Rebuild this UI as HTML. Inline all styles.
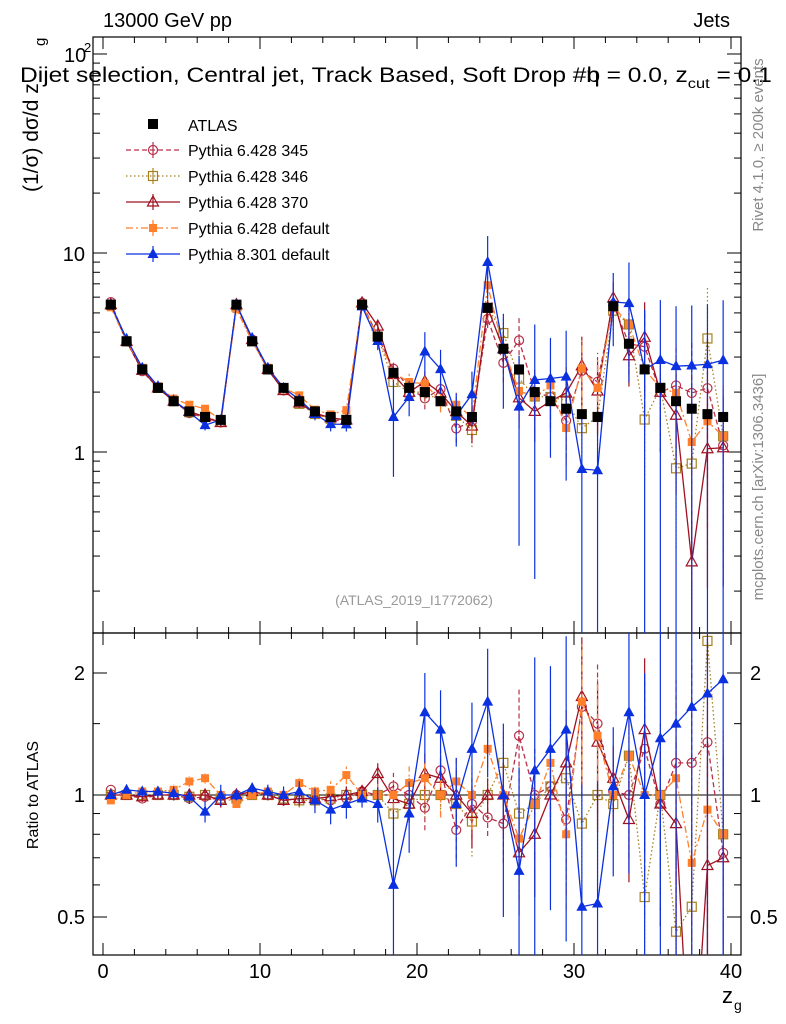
<!DOCTYPE html>
<html><head><meta charset="utf-8"><style>
html,body{margin:0;background:#fff;overflow:hidden;}
svg{font-family:"Liberation Sans",sans-serif;display:block;}
</style></head><body>
<svg id="c" width="786" height="1024" viewBox="0 0 786 1024"></svg>
<script>
const bins=[];for(let i=0;i<40;i++)bins.push(i+0.5);
const atlas=[5.5,3.6,2.6,2.1,1.8,1.6,1.5,1.45,5.5,3.6,2.6,2.1,1.8,1.6,1.5,1.45,5.5,3.8,2.5,2.1,2.0,1.8,1.6,1.5,5.3,3.3,2.6,2.0,1.8,1.65,1.55,1.5,5.4,3.5,2.6,2.1,1.8,1.65,1.55,1.5];
const r345=[1.03,1.0,0.98,1.0,1.0,0.98,0.99,0.97,1.0,1.02,1.0,0.97,0.98,0.98,0.97,0.98,1.02,1.0,1.05,1.0,0.93,1.15,0.82,0.95,0.88,0.85,1.4,1.0,1.05,0.87,1.65,1.5,1.02,1.0,1.3,0.95,1.2,1.2,1.35,0.72];
const r346=[1.0,1.0,1.0,1.0,1.0,0.99,1.0,0.98,0.98,1.0,1.0,0.98,0.97,0.97,0.98,1.0,1.0,1.0,0.9,0.95,1.0,1.0,0.95,0.86,1.0,1.2,0.9,0.95,1.05,1.1,0.85,1.0,0.95,1.25,0.56,1.0,0.46,0.53,2.4,0.8];
const r370=[1.0,1.0,0.99,1.0,1.0,1.0,1.0,0.97,1.0,1.02,1.0,0.97,0.98,0.98,0.99,1.0,1.02,1.13,0.98,0.95,1.13,1.1,1.0,0.9,1.0,1.0,0.72,0.8,1.0,1.2,1.75,1.35,1.1,0.87,1.45,0.95,0.85,0.17,0.67,0.7];
const rdef=[0.97,1.0,1.02,1.02,1.03,1.08,1.1,1.0,0.95,1.0,1.02,1.0,1.07,1.02,1.03,1.12,1.0,1.0,1.0,1.07,1.1,1.0,1.08,1.0,1.3,1.0,0.78,0.95,1.2,0.8,1.7,1.4,1.0,1.25,1.0,1.0,1.1,0.68,0.92,0.8];
const r8=[1.0,1.03,1.02,1.02,1.01,0.99,0.91,1.0,1.0,1.04,1.02,1.0,1.02,0.97,0.92,0.95,0.98,0.95,0.6,0.9,1.6,1.45,0.95,1.3,1.7,1.0,0.65,1.15,1.3,1.45,0.53,0.54,1.05,1.6,1.0,1.38,1.5,1.65,1.78,1.93];
const e8=[0.02,0.02,0.03,0.03,0.04,0.04,0.06,0.06,0.03,0.03,0.04,0.05,0.06,0.07,0.08,0.08,0.05,0.1,0.5,0.2,0.25,0.25,0.3,0.3,0.35,0.5,0.8,0.9,0.6,0.7,1.0,1.0,0.4,0.6,1.0,1.0,1.0,1.0,1.0,1.0];
const eMC=[0.02,0.02,0.02,0.02,0.03,0.03,0.03,0.04,0.02,0.02,0.03,0.03,0.04,0.04,0.05,0.05,0.03,0.06,0.08,0.1,0.12,0.12,0.15,0.18,0.1,0.2,0.3,0.3,0.3,0.35,0.4,0.4,0.2,0.3,0.5,0.5,0.6,0.8,0.8,0.8];
const xTicks=[0,10,20,30,40];

const S=document.getElementById('c'),NS='http://www.w3.org/2000/svg';
function el(t,a,p){const e=document.createElementNS(NS,t);for(const k in a)e.setAttribute(k,a[k]);(p||S).appendChild(e);return e;}
const L=93,R=741,T1=37,B1=633,T2=633,B2=955;
const X=v=>103+v*15.7;
const Y1=v=>452-Math.log10(v)*199;
const Y2=v=>795-Math.log2(v)*122;
const defs=el('defs',{});
const c1=el('clipPath',{id:'c1'},defs);el('rect',{x:L,y:T1,width:R-L,height:B1-T1},c1);
const c2=el('clipPath',{id:'c2'},defs);el('rect',{x:L,y:T2,width:R-L,height:B2-T2},c2);
function txt(x,y,s,a,name){const t=el('text',Object.assign({x:x,y:y},a||{}));t.textContent=s;return t;}

const series=[
 {name:'pythia-6428-345',r:r345,col:'#b8304a',dash:'5,3',mk:'circ',lab:'Pythia 6.428 345'},
 {name:'pythia-6428-346',r:r346,col:'#a88020',dash:'1.5,2.5',mk:'sq',lab:'Pythia 6.428 346'},
 {name:'pythia-6428-370',r:r370,col:'#a01020',dash:'',mk:'tri',lab:'Pythia 6.428 370'},
 {name:'pythia-6428-default',r:rdef,col:'#ff7f2a',dash:'7,3,2,3',mk:'fsq',lab:'Pythia 6.428 default'},
 {name:'pythia-8301-default',r:r8,col:'#0a30e0',dash:'',mk:'ftri',lab:'Pythia 8.301 default'}];
function marker(g,m,x,y,col){
 if(m==='circ')el('circle',{cx:x,cy:y,r:4.5,fill:'none',stroke:col,'stroke-width':1.2},g);
 else if(m==='sq')el('rect',{x:x-4.5,y:y-4.5,width:9,height:9,fill:'none',stroke:col,'stroke-width':1.2},g);
 else if(m==='fsq')el('rect',{x:x-4,y:y-4,width:8,height:8,fill:col},g);
 else if(m==='tri')el('path',{d:`M${x},${y-6}L${x+5.5},${y+4}L${x-5.5},${y+4}Z`,fill:'none',stroke:col,'stroke-width':1.2},g);
 else if(m==='ftri')el('path',{d:`M${x},${y-6}L${x+5.5},${y+4}L${x-5.5},${y+4}Z`,fill:col},g);
 else if(m==='blk')el('rect',{x:x-5,y:y-5,width:10,height:10,fill:'#000'},g);
}
el('rect',{x:L,y:T1,width:R-L,height:B1-T1,fill:'none',stroke:'#000','stroke-width':1.2});
el('rect',{x:L,y:T2,width:R-L,height:B2-T2,fill:'none',stroke:'#000','stroke-width':1.2});
el('line',{x1:L,x2:R,y1:Y2(1),y2:Y2(1),stroke:'#000','stroke-width':1});
for(let v=0;v<=40;v+=2){const maj=v%10===0,h=maj?12:6;
 [B1,B2].forEach(b=>el('line',{x1:X(v),x2:X(v),y1:b,y2:b-h,stroke:'#000'}));
 [T1,T2].forEach(t=>el('line',{x1:X(v),x2:X(v),y1:t,y2:t+h,stroke:'#000'}));}
xTicks.forEach(v=>txt(X(v),978,String(v),{'text-anchor':'middle','font-size':20},'x-tick-'+v));
for(let d=-1;d<=2;d++)for(let m=1;m<10;m++){const v=m*Math.pow(10,d);const y=Y1(v);if(y<T1||y>B1)continue;const h=m===1?14:7;
 el('line',{x1:L,x2:L+h,y1:y,y2:y,stroke:'#000'});el('line',{x1:R,x2:R-h,y1:y,y2:y,stroke:'#000'});}
txt(85,460,'1',{'text-anchor':'end','font-size':20},'y-tick-1');
txt(85,261,'10',{'text-anchor':'end','font-size':20},'y-tick-10');
txt(64,62,'10',{'font-size':20},'y-tick-100');
txt(84,52,'2',{'font-size':13},'y-tick-100-exp');
[0.5,0.6,0.7,0.8,0.9,1,1.5,2].forEach(v=>{const y=Y2(v);const h=(v===0.5||v===1||v===2)?14:7;
 el('line',{x1:L,x2:L+h,y1:y,y2:y,stroke:'#000'});el('line',{x1:R,x2:R-h,y1:y,y2:y,stroke:'#000'});});
[[0.5,'0.5'],[1,'1'],[2,'2']].forEach(([v,s])=>{txt(85,Y2(v)+7,s,{'text-anchor':'end','font-size':20},'ratio-tick-left-'+s);txt(750,Y2(v)+7,s,{'font-size':20},'ratio-tick-right-'+s);});
const g1=el('g',{'clip-path':'url(#c1)'}),g2=el('g',{'clip-path':'url(#c2)'});
series.forEach(s=>{
 const ga=el('g',{},g1),gb=el('g',{},g2);
 
 
 const err=s.mk==='ftri'?e8:eMC;
 const p1=[],p2=[];
 bins.forEach((b,i)=>{const v=atlas[i]*s.r[i];const x=X(b);
  const lo=Math.max(v*(1-err[i]),1e-3),hi=v*(1+err[i]);
  el('line',{x1:x,x2:x,y1:Y1(lo),y2:Y1(hi),stroke:s.col,'stroke-width':1.2,'stroke-dasharray':s.dash},ga);
  el('line',{x1:x,x2:x,y1:Y2(Math.max(s.r[i]*(1-err[i]),1e-3)),y2:Y2(s.r[i]*(1+err[i])),stroke:s.col,'stroke-width':1.2,'stroke-dasharray':s.dash},gb);
  p1.push(x+','+Y1(v));p2.push(x+','+Y2(s.r[i]));});
 el('polyline',{points:p1.join(' '),fill:'none',stroke:s.col,'stroke-width':1.3,'stroke-dasharray':s.dash},ga);
 el('polyline',{points:p2.join(' '),fill:'none',stroke:s.col,'stroke-width':1.3,'stroke-dasharray':s.dash},gb);
 bins.forEach((b,i)=>{marker(ga,s.mk,X(b),Y1(atlas[i]*s.r[i]),s.col);marker(gb,s.mk,X(b),Y2(s.r[i]),s.col);});
});
const ga=el('g',{},g1);
bins.forEach((b,i)=>marker(ga,'blk',X(b),Y1(atlas[i]),'#000'));
const lg=el('g',{});
marker(lg,'blk',153,124,'#000');txt(188,131,'ATLAS',{'font-size':16},'legend-atlas');
series.forEach((s,k)=>{const y=150+k*26;
 el('line',{x1:126,x2:180,y1:y,y2:y,stroke:s.col,'stroke-width':1.3,'stroke-dasharray':s.dash},lg);
 el('line',{x1:153,x2:153,y1:y-8,y2:y+8,stroke:s.col,'stroke-width':1.2},lg);
 marker(lg,s.mk,153,y,s.col);txt(188,y+6,s.lab,{'font-size':16},'legend-'+s.name);});
txt(103,27,'13000 GeV pp',{'font-size':20},'energy-label');
txt(730,27,'Jets',{'font-size':20,'text-anchor':'end'},'process-label');
const ti=el('text',{x:0,y:0,'font-size':21,transform:'translate(20,82) scale(1.17,1)'});
ti.innerHTML='Dijet selection, Central jet, Track Based, Soft Drop #b<tspan dx="-12">η</tspan> = 0.0, z<tspan font-size="14" dy="6">cut</tspan><tspan dy="-6"> = 0.1</tspan>';
txt(414,605,'(ATLAS_2019_I1772062)',{'font-size':14,'fill':'#999','text-anchor':'middle'},'analysis-id');
txt(0,0,'(1/σ) dσ/d z',{'font-size':21,transform:'translate(38,192) rotate(-90)'},'y-axis-title');
txt(0,0,'g',{'font-size':15,transform:'translate(45,46) rotate(-90)'},'y-axis-title-sub');
txt(0,0,'Ratio to ATLAS',{'font-size':16,transform:'translate(38,795) rotate(-90)','text-anchor':'middle'},'ratio-axis-title');
txt(722,1003,'z',{'font-size':22},'x-axis-title');txt(734,1010,'g',{'font-size':14},'x-axis-title-sub');
txt(0,0,'Rivet 4.1.0, ≥ 200k events',{'font-size':15,fill:'#888',transform:'translate(763,145) rotate(-90)','text-anchor':'middle'},'rivet-label');
txt(0,0,'mcplots.cern.ch [arXiv:1306.3436]',{'font-size':15,fill:'#888',transform:'translate(763,487) rotate(-90)','text-anchor':'middle'},'mcplots-label');
</script>
</body></html>
